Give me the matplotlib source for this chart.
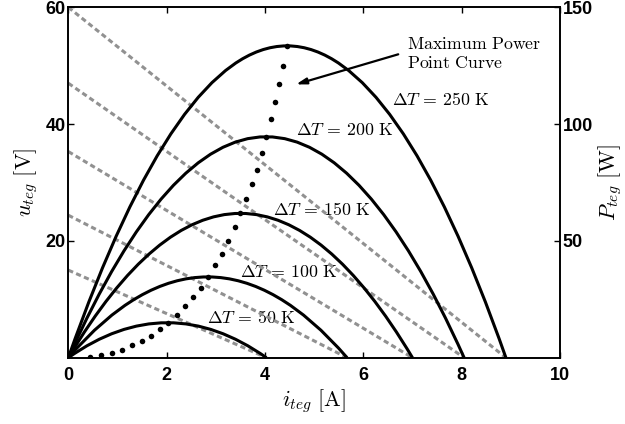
import matplotlib.pyplot as plt
from matplotlib.path import Path
from matplotlib.patches import PathPatch

plt.rcParams['font.family'] = ['Liberation Sans', 'DejaVu Sans']
plt.rcParams['mathtext.fontset'] = 'cm'

# TEG characteristics
delta_T = [50, 100, 150, 200, 250]        # temperature difference [K]
u_oc = [15.0, 24.4, 35.3, 47.0, 60.0]     # open circuit voltage [V]
i_sc = [4.03, 5.67, 7.0, 8.05, 8.9]       # short circuit current [A]
p_max = [15.0, 34.6, 61.8, 94.6, 133.5]   # peak power of each curve [W]

# maximum power point curve
i_mpp = [0.45, 0.67, 0.88, 1.10, 1.30, 1.50, 1.68, 1.86, 2.02, 2.21, 2.38, 2.54,
         2.69, 2.835, 2.99, 3.12, 3.25, 3.39, 3.5, 3.61, 3.73, 3.83, 3.94, 4.025,
         4.12, 4.21, 4.29, 4.37, 4.45]
p_mpp = [0.25, 1.0, 2.1, 3.5, 5.25, 7.25, 9.5, 12.25, 15.0, 18.5, 22.0, 26.0,
         30.0, 34.6, 39.5, 44.5, 50.0, 55.75, 61.8, 67.75, 74.25, 80.5, 87.5, 94.6,
         102.0, 109.5, 117.0, 125.0, 133.5]

fig = plt.figure(figsize=(6.25, 4.24), dpi=100)
ax = fig.add_axes([0.1093, 0.1563, 0.7867, 0.8265])
ax2 = ax.twinx()

# voltage lines (left axis)
for voc, isc in zip(u_oc, i_sc):
    ax.plot([0, isc], [voc, 0], color='0.57', lw=2.2, ls=(0, (1.7, 1.1)), zorder=2)

# power curves P = u*i are parabolas: (0,0) -> peak -> (i_sc,0),
# drawn as quadratic bezier through the data coords of the right axis
for isc, pm in zip(i_sc, p_max):
    verts = [(0, 0), (isc / 2, 2 * pm), (isc, 0)]
    path = Path(verts, [Path.MOVETO, Path.CURVE3, Path.CURVE3])
    ax2.add_patch(PathPatch(path, fill=False, edgecolor='k', lw=2.2,
                            transform=ax2.transData))
ax2.plot(i_mpp, p_mpp, 'o', color='k', ms=4, mec='none')

# curve labels
label_pos = [(2.82, 6.8), (3.49, 14.6), (4.16, 25.2), (4.63, 38.9), (6.58, 44.0)]
for dt, (x, y) in zip(delta_T, label_pos):
    ax.text(x, y, r'$\Delta T\, =\, %d\ \mathrm{K}$' % dt, fontsize=12.8,
            ha='left', va='center', zorder=1)

ax.annotate('', xy=(4.63, 46.8), xytext=(6.71, 51.95),
            arrowprops=dict(arrowstyle='-|>,head_length=0.6,head_width=0.18',
                            color='k', lw=1.6, shrinkA=0, shrinkB=0))
ax.text(6.88, 52.0, '$\\mathrm{Maximum\\ Power}$\n$\\mathrm{Point\\ Curve}$',
        fontsize=12.8, ha='left', va='center', linespacing=1.1)

ax.set_xlim(0, 10)
ax.set_ylim(0, 60)
ax2.set_ylim(0, 150)
ax.set_xticks([0, 2, 4, 6, 8, 10])
ax.set_yticks([20, 40, 60])
ax2.set_yticks([50, 100, 150])

for a in (ax, ax2):
    for lab in a.get_xticklabels() + a.get_yticklabels():
        lab.set_fontweight('bold')
        lab.set_fontsize(13)
    for sp in a.spines.values():
        sp.set_linewidth(1.2)

ax.tick_params(axis='x', direction='in', top=True, length=4, width=1, pad=6.5)
ax.tick_params(axis='y', direction='in', length=4, width=1, pad=2)
ax2.tick_params(axis='y', direction='in', length=4, width=1, pad=2)

ax.set_xlabel(r'$i_{teg}\ [\mathrm{A}]$', fontsize=16, labelpad=2)
ax.set_ylabel(r'$u_{teg}\ [\mathrm{V}]$', fontsize=16, labelpad=4)
ax2.set_ylabel(r'$P_{teg}\ [\mathrm{W}]$', fontsize=16, labelpad=2)

fig.savefig('out.png', dpi=100)
